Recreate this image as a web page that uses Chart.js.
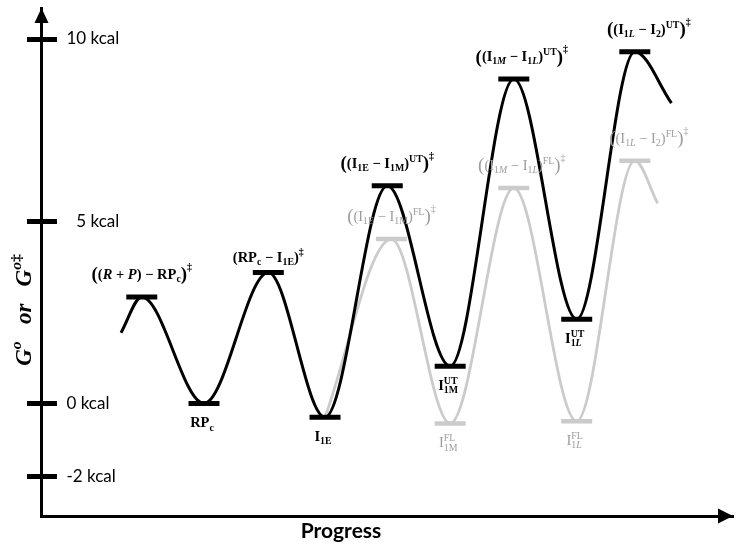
<!DOCTYPE html>
<html>
<head>
<meta charset="utf-8">
<style>
  html, body { margin: 0; padding: 0; background: #fff; }
  #wrap { width: 750px; height: 547px; }
</style>
</head>
<body>
<div id="wrap"><canvas id="energyChart" width="750" height="547"></canvas></div>
<script src="https://cdn.jsdelivr.net/npm/chart.js"></script>
<script>
// unfolded (UT) path: reaction progress and free energy (kcal)
const utProgress = [11.5, 14.5, 23.5, 32.8, 41.0, 50.0, 59.1, 68.3, 77.4, 85.8, 91.1];
const utEnergy   = [1.94, 2.92, 0.00, 3.59, -0.38, 5.97, 1.02, 8.90, 2.31, 9.65, 8.24];
const utLabels   = ['', '[($R$ + $P$) − RP_c]^‡', 'RP_c', '(RP_c − I_{1E})^‡', 'I_{1E}',
                    '[(I_{1E} − I_{1M})^{UT}]^‡', 'I^{UT}_{1M}', '[(I_{1$M$} − I_{1$L$})^{UT}]^‡',
                    'I^{UT}_{1$L$}', '[(I_{1$L$} − I_2)^{UT}]^‡', ''];

// folded (FL) path, branching off after I1E
const flProgress = [41.0, 50.6, 59.1, 68.3, 77.4, 85.8, 89.1];
const flEnergy   = [-0.38, 4.51, -0.55, 5.91, -0.49, 6.66, 5.49];
const flLabels   = ['', '[(I_{1E} − I_{1M})^{FL}]^‡', 'I^{FL}_{1M}', '[(I_{1$M$} − I_{1$L$})^{FL}]^‡',
                    'I^{FL}_{1$L$}', '[(I_{1$L$} − I_2)^{FL}]^‡', ''];

const yTickValues = [-2, 0, 5, 10];
const yTickLabels = ['-2 kcal', '0 kcal', '\u20075 kcal', '10 kcal'];
const yTitle = '$G$^{$o$}   $or$   $G$^{$o$‡}';
const xTitle = 'Progress';

const BLACK = '#000000';
const GREY = '#cbcbcb';
const GREY_TEXT = '#9d9d9d';

function curve(px, py) {
  return px.map((p, i) => ({ x: p, y: py[i] }));
}
function levels(px, py, names) {
  return px.map((p, i) => ({ x: p, y: py[i], name: names[i] })).filter(d => d.name);
}

// tiny markup: $..$ italic, _x / _{..} sub, ^x / ^{..} sup, [ ] large parentheses
function parseRich(src) {
  const out = [];
  let italic = false, i = 0;
  while (i < src.length) {
    const c = src[i];
    if (c === '$') { italic = !italic; i++; continue; }
    if (c === '_' || c === '^') {
      const lvl = c === '^' ? 1 : -1;
      let body;
      if (src[i + 1] === '{') { const j = src.indexOf('}', i); body = src.slice(i + 2, j); i = j + 1; }
      else { body = src[i + 1]; i += 2; }
      let it = italic, buf = '';
      for (const ch of body) {
        if (ch === '$') { if (buf) out.push({ t: buf, italic: it, lvl }); buf = ''; it = !it; }
        else buf += ch;
      }
      if (buf) out.push({ t: buf, italic: it, lvl });
      continue;
    }
    if (c === '[' || c === ']') { out.push({ t: c === '[' ? '(' : ')', italic: false, lvl: 0, big: true }); i++; continue; }
    let buf = '';
    while (i < src.length && !'$_^[]'.includes(src[i])) { buf += src[i]; i++; }
    out.push({ t: buf, italic, lvl: 0 });
  }
  return out;
}

function drawRich(ctx, src, cx, baseY, size, weight, color, family) {
  const tokens = parseRich(src);
  const items = [];
  let x = 0, prevLvl = 0, prevBig = false, supStart = 0, supEnd = 0, stacked = false;
  tokens.forEach(tk => {
    if (stacked && tk.lvl !== -1) { x = Math.max(x, supEnd); stacked = false; }
    if (tk.lvl === 1 && prevLvl !== 1) supStart = x;
    if (tk.lvl === -1 && prevLvl === 1) { supEnd = x; x = supStart; stacked = true; }
    const sz = tk.big ? size * 1.3 : (tk.lvl ? size * 0.68 : size);
    const font = (tk.italic ? 'italic ' : '') + weight + ' ' + sz.toFixed(1) + 'px ' + family;
    ctx.font = font;
    const w = ctx.measureText(tk.t).width;
    let dy = 0;
    if (tk.lvl === 1) dy = prevBig ? -size * 0.62 : -size * 0.42;
    if (tk.lvl === -1) dy = size * 0.22;
    if (tk.big) dy = size * 0.1;
    items.push({ t: tk.t, font, x, dy });
    x += w;
    if (tk.lvl === -1 || tk.lvl === 0) prevBig = !!tk.big;
    prevLvl = tk.lvl;
  });
  if (stacked) x = Math.max(x, supEnd);
  const left = cx - x / 2;
  ctx.save();
  ctx.fillStyle = color;
  ctx.textBaseline = 'alphabetic';
  ctx.textAlign = 'left';
  items.forEach(it => { ctx.font = it.font; ctx.fillText(it.t, left + it.x, baseY + it.dy); });
  ctx.restore();
}

const SERIF = '"Liberation Serif", "DejaVu Serif", serif';

const decorations = {
  id: 'decorations',
  afterDraw(chart) {
    const { ctx, chartArea: a, scales: { x, y } } = chart;
    ctx.save();
    // tick marks crossing the y axis
    ctx.strokeStyle = BLACK;
    ctx.lineWidth = 5;
    y.ticks.forEach(t => {
      const py = Math.round(y.getPixelForValue(t.value)) + 0.5;
      ctx.beginPath();
      ctx.moveTo(a.left - 14.5, py);
      ctx.lineTo(a.left + 15.5, py);
      ctx.stroke();
    });
    // arrow heads
    ctx.fillStyle = BLACK;
    ctx.beginPath();
    ctx.moveTo(a.left, a.top);
    ctx.lineTo(a.left - 7, a.top + 15);
    ctx.lineTo(a.left + 7, a.top + 15);
    ctx.closePath();
    ctx.fill();
    ctx.beginPath();
    ctx.moveTo(a.right, a.bottom);
    ctx.lineTo(a.right - 15, a.bottom - 7.5);
    ctx.lineTo(a.right - 15, a.bottom + 7.5);
    ctx.closePath();
    ctx.fill();
    // axis titles
    ctx.font = 'bold 21px Lato, "Open Sans", sans-serif';
    ctx.textAlign = 'center';
    ctx.textBaseline = 'alphabetic';
    ctx.fillText(xTitle, 341, 538);
    ctx.translate(31, 310);
    ctx.rotate(-Math.PI / 2);
    drawRich(ctx, yTitle, 0, 0, 23, 'bold', BLACK, SERIF);
    ctx.restore();

    // state labels
    const put = (pts, energies, names, color, weight) => {
      pts.forEach((p, i) => {
        if (!names[i]) return;
        const px = x.getPixelForValue(p);
        const py = y.getPixelForValue(energies[i]);
        const isTop = energies[i] > energies[i - 1];
        const shift = isTop ? (p > 80 ? 14 : p > 60 ? 8 : 0) : -2;
        const base = isTop ? py - (names[i][0] === '[' ? 18 : 11) : py + 24;
        drawRich(ctx, names[i], px + shift, base, 14.5, weight, color, SERIF);
      });
    };
    put(utProgress, utEnergy, utLabels, BLACK, 'bold');
    put(flProgress, flEnergy, flLabels, GREY_TEXT, 'normal');
  }
};

const ctx = document.getElementById('energyChart').getContext('2d');
new Chart(ctx, {
  type: 'scatter',
  data: {
    datasets: [{
      label: 'UT levels',
      data: levels(utProgress, utEnergy, utLabels),
      pointStyle: 'line',
      pointRadius: 15.5,
      pointBorderWidth: 5,
      pointBorderColor: BLACK,
      showLine: false
    }, {
      label: 'UT path',
      data: curve(utProgress, utEnergy),
      showLine: true,
      cubicInterpolationMode: 'monotone',
      borderColor: BLACK,
      borderWidth: 3,
      pointRadius: 0
    }, {
      label: 'FL levels',
      data: levels(flProgress, flEnergy, flLabels),
      pointStyle: 'line',
      pointRadius: 15.5,
      pointBorderWidth: 4.5,
      pointBorderColor: GREY,
      showLine: false
    }, {
      label: 'FL path',
      data: curve(flProgress, flEnergy),
      showLine: true,
      cubicInterpolationMode: 'monotone',
      borderColor: GREY,
      borderWidth: 2.8,
      pointRadius: 0
    }]
  },
  options: {
    responsive: false,
    animation: false,
    events: [],
    // the wide level markers would otherwise make Chart.js pad the plot
    layout: { autoPadding: false, padding: { top: 8, right: 17, left: 0, bottom: 0 } },
    plugins: { legend: { display: false }, tooltip: { enabled: false } },
    scales: {
      x: {
        type: 'linear',
        min: 0,
        max: 100,
        ticks: { display: false },
        grid: { display: false },
        border: { display: true, color: BLACK, width: 3 },
        afterFit: s => { s.height = 31; s.paddingLeft = 0; s.paddingRight = 0; }
      },
      y: {
        type: 'linear',
        min: -3.09,
        max: 10.85,
        afterBuildTicks: s => { s.ticks = yTickValues.map(v => ({ value: v })); },
        ticks: {
          mirror: true,
          padding: 25,
          color: BLACK,
          font: { family: 'Lato, "Open Sans", sans-serif', size: 17 },
          callback: v => yTickLabels[yTickValues.indexOf(v)]
        },
        grid: { display: false },
        border: { display: true, color: BLACK, width: 3 },
        afterFit: s => { s.width = 41.5; s.paddingTop = 0; s.paddingBottom = 0; }
      }
    }
  },
  plugins: [decorations]
});
</script>
</body>
</html>
